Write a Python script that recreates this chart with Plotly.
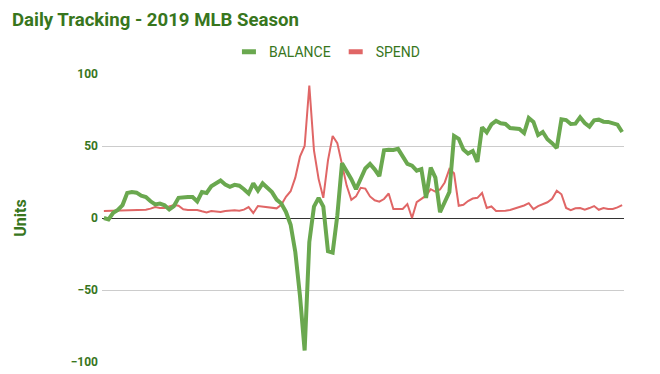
import plotly.graph_objects as go

days = list(range(112))

balance = [0, -1, 3.6, 5.6, 9, 17.4, 18, 17.6, 15.5, 14.6,
           11.6, 9.4, 10, 8.8, 5.9, 8.3, 14, 14.6, 14.6, 14.6,
           11.5, 18, 17.4, 22, 24, 26, 23.3, 21.7, 23, 22.4,
           20, 17, 24, 19, 24, 21.3, 18, 12.8, 10.1, 4.2,
           -4.7, -23.6, -54, -92, -16.7, 7.9, 14, 8, -23, -24,
           1.7, 38, 33, 27, 20, 27, 34.4, 37.5, 33.8, 29,
           47, 47.4, 47.2, 48, 42.8, 37.6, 36.3, 32.9, 34, 14,
           35, 28, 4, 10.7, 18, 57, 55, 47.5, 44.8, 46.5,
           39, 63, 59.4, 65, 67.4, 65.8, 65.3, 62.5, 61.8, 61.8,
           59, 69.4, 66.7, 57.6, 59.7, 54.7, 52, 48.6, 68.5, 68,
           65.3, 65.5, 70, 66, 63.5, 67.8, 68.3, 66.9, 66.7, 66,
           64.8, 59.7]

spend = [4.9, 5, 5, 5.5, 5.5, 5.5, 5.5, 5.5, 5.7, 5.7,
         6.5, 7.6, 7, 7, 8, 9, 8.5, 6, 5.6, 5.6,
         5.6, 4.7, 3.9, 4.9, 4.7, 4.2, 4.9, 5.3, 5.3, 5,
         5.8, 7.6, 3.5, 8.3, 8, 7.6, 7, 6.7, 9.2, 14.7,
         18.6, 28, 42.6, 50, 92, 47, 27, 14, 40, 57,
         52, 38, 22.5, 12.6, 15, 21, 20.4, 15, 12.3, 11.3,
         13.2, 17, 6.3, 6.3, 6.3, 9.7, 0, 11, 13.2, 15.5,
         20, 18.3, 19.8, 24.7, 34, 31, 8.5, 9.2, 11.8, 13.5,
         14, 17.4, 7, 8, 4.9, 4.9, 5.1, 5.6, 6.5, 7.5,
         8.7, 10.3, 6.2, 8.3, 9.7, 10.9, 13.3, 19, 16.5, 7,
         5.4, 6.7, 6.9, 5.7, 6.9, 8.3, 5.7, 6.9, 6.3, 6.3,
         7.4, 9]

y_ticks = [-100, -50, 0, 50, 100]

GREEN = "#6aa84f"
RED = "#e06666"
DARK = "#38761d"

fig = go.Figure()
fig.add_trace(go.Scatter(x=days, y=spend, mode="lines", name="SPEND",
                         line=dict(color=RED, width=2), showlegend=False))
fig.add_trace(go.Scatter(x=days, y=balance, mode="lines", name="BALANCE",
                         line=dict(color=GREEN, width=4), showlegend=False))
# legend entries
fig.add_trace(go.Scatter(x=[None], y=[None], mode="markers", name="BALANCE",
                         marker=dict(symbol="line-ew", size=10, color=GREEN,
                                     line=dict(width=5, color=GREEN))))
fig.add_trace(go.Scatter(x=[None], y=[None], mode="markers", name="SPEND",
                         marker=dict(symbol="line-ew", size=10, color=RED,
                                     line=dict(width=5, color=RED))))

# page body has an 8px margin, so figure coordinates are offset by 8px
fig.update_layout(
    width=660, height=374,
    margin=dict(l=94, r=44, t=66, b=20, autoexpand=False),
    paper_bgcolor="white", plot_bgcolor="white",
    font=dict(family="Roboto", color=DARK),
    title=dict(text="<b>Daily Tracking - 2019 MLB Season</b>", x=0.006, xanchor="left",
               xref="container", yref="container",
               y=0.968, yanchor="middle", font=dict(size=18.6, color=DARK, family="Roboto")),
    legend=dict(orientation="h", x=0.484, xanchor="center", xref="container",
                y=0.882, yanchor="middle", yref="container",
                font=dict(size=14, color=DARK, family="Roboto"), itemwidth=30,
                traceorder="normal"),
    xaxis=dict(range=[-0.4, 111.4], showgrid=False, showticklabels=False, zeroline=False,
               showline=False, ticks="", automargin=False),
    yaxis=dict(range=[-100, 100], tickvals=y_ticks, showgrid=True, gridcolor="#cccccc",
               gridwidth=1, zeroline=True, zerolinecolor="#333333", zerolinewidth=1,
               tickfont=dict(size=12, color=DARK, family="Roboto", weight="bold"),
               ticks="", ticklabelstandoff=3, automargin=False,
               title=dict(text="<b>Units</b>", font=dict(size=16, color=DARK, family="Roboto"),
                          standoff=40)),
)

fig.write_html("out.html")
